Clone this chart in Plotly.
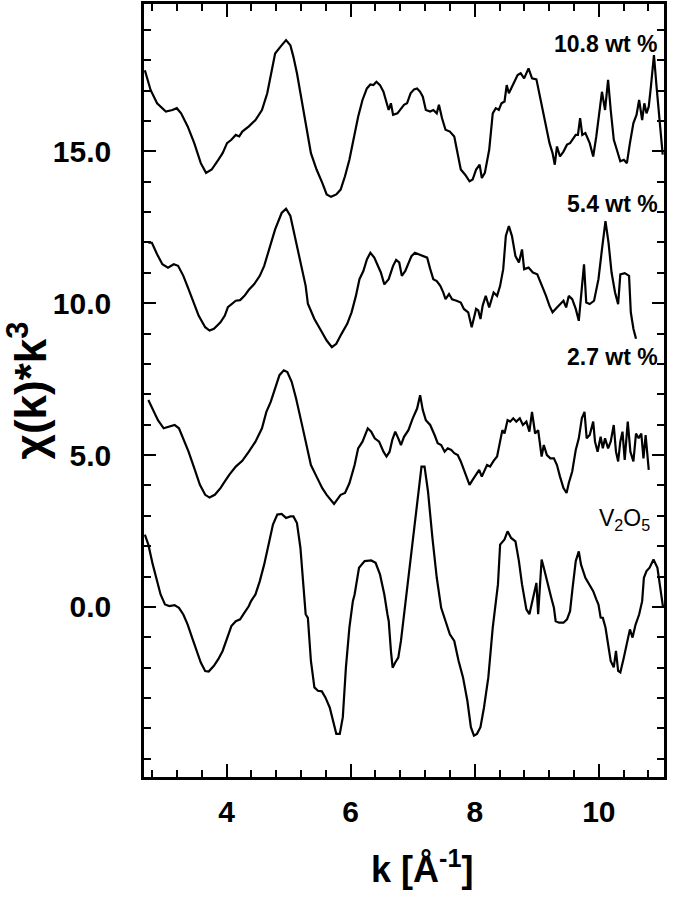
import plotly.graph_objects as go

# k values [1/A] and chi(k)*k^3 (as plotted, with vertical offsets)
k_108 = [2.684, 2.776, 2.881, 3.022, 3.128, 3.198, 3.268, 3.374, 3.480, 3.585, 3.670, 3.761,
         3.867, 3.937, 4.008, 4.078, 4.149, 4.205, 4.254, 4.360, 4.466, 4.571, 4.656, 4.726,
         4.783, 4.867, 4.959, 5.029, 5.078, 5.135, 5.205, 5.275, 5.360, 5.451, 5.543, 5.614,
         5.684, 5.769, 5.839, 5.909, 5.980, 6.050, 6.121, 6.191, 6.262, 6.318, 6.367, 6.416,
         6.473, 6.529, 6.578, 6.613, 6.649, 6.684, 6.754, 6.811, 6.860, 6.909, 6.966, 7.022,
         7.071, 7.120, 7.163, 7.212, 7.282, 7.332, 7.388, 7.423, 7.473, 7.529, 7.599, 7.670,
         7.726, 7.775, 7.846, 7.916, 7.966, 8.022, 8.079, 8.114, 8.163, 8.233, 8.290, 8.339,
         8.388, 8.431, 8.480, 8.515, 8.550, 8.621, 8.691, 8.740, 8.796, 8.867, 8.923, 8.994,
         9.078, 9.149, 9.205, 9.254, 9.290, 9.325, 9.374, 9.430, 9.487, 9.536, 9.585, 9.628,
         9.663, 9.698, 9.733, 9.783, 9.853, 9.909, 9.959, 10.008, 10.050, 10.100, 10.149, 10.191,
         10.241, 10.290, 10.346, 10.403, 10.452, 10.501, 10.557, 10.607, 10.649, 10.698, 10.733,
         10.768, 10.804, 10.839, 10.888, 10.930, 10.980, 11.029]
chi_108 = [17.67, 17.02, 16.58, 16.31, 16.36, 16.42, 16.25, 15.82, 15.27, 14.61, 14.29, 14.40,
           14.72, 14.94, 15.27, 15.38, 15.54, 15.49, 15.65, 15.82, 16.03, 16.36, 16.91, 17.67,
           18.22, 18.44, 18.66, 18.49, 18.11, 17.57, 16.80, 15.93, 14.94, 14.40, 13.96, 13.58,
           13.50, 13.58, 13.74, 14.18, 14.72, 15.49, 16.14, 16.69, 17.07, 17.20, 17.18, 17.29,
           17.18, 16.96, 16.64, 16.36, 16.58, 16.20, 16.25, 16.42, 16.53, 16.58, 16.91, 17.04,
           17.07, 16.96, 16.80, 16.36, 16.31, 16.36, 16.25, 16.53, 16.09, 15.71, 15.65, 15.49,
           14.94, 14.40, 14.23, 14.01, 14.07, 14.40, 14.56, 14.12, 14.29, 15.05, 16.25, 16.42,
           16.36, 16.58, 16.64, 17.18, 16.91, 17.24, 17.51, 17.57, 17.40, 17.73, 17.40, 17.37,
           16.58, 15.82, 15.27, 14.94, 14.56, 15.16, 14.83, 14.99, 15.22, 15.27, 15.43, 15.54,
           15.54, 16.09, 15.54, 15.60, 15.27, 14.83, 15.49, 16.36, 16.96, 16.36, 17.35, 16.36,
           15.38, 15.05, 14.67, 14.72, 14.61, 15.27, 15.93, 16.20, 16.69, 16.03, 16.58,
           16.25, 16.47, 17.13, 18.17, 17.13, 15.93, 14.89]

k_54 = [2.740, 2.797, 2.881, 2.966, 3.057, 3.149, 3.219, 3.304, 3.388, 3.480, 3.550, 3.656,
        3.726, 3.797, 3.902, 3.973, 4.022, 4.149, 4.219, 4.289, 4.360, 4.444, 4.536, 4.607,
        4.698, 4.783, 4.888, 4.959, 5.029, 5.100, 5.191, 5.275, 5.311, 5.416, 5.522, 5.614,
        5.698, 5.769, 5.853, 5.945, 6.015, 6.085, 6.142, 6.205, 6.262, 6.318, 6.381, 6.438,
        6.487, 6.543, 6.613, 6.684, 6.733, 6.783, 6.825, 6.881, 6.931, 6.980, 7.036, 7.107,
        7.177, 7.233, 7.283, 7.332, 7.388, 7.445, 7.494, 7.529, 7.586, 7.635, 7.706, 7.775,
        7.825, 7.895, 7.951, 8.022, 8.057, 8.092, 8.128, 8.177, 8.233, 8.304, 8.360, 8.409,
        8.459, 8.501, 8.550, 8.600, 8.656, 8.712, 8.762, 8.796, 8.867, 8.937, 9.008, 9.078,
        9.149, 9.205, 9.254, 9.325, 9.381, 9.430, 9.473, 9.515, 9.571, 9.628, 9.677, 9.761,
        9.797, 9.853, 9.923, 9.994, 10.050, 10.107, 10.156, 10.205, 10.261, 10.311, 10.346,
        10.417, 10.487, 10.515, 10.557, 10.599]
chi_54 = [11.99, 11.99, 11.61, 11.28, 11.17, 11.28, 11.23, 10.90, 10.46, 9.97, 9.59, 9.21,
          9.10, 9.16, 9.37, 9.59, 9.87, 10.08, 10.10, 10.24, 10.44, 10.62, 10.90, 11.23,
          11.88, 12.43, 12.97, 13.11, 12.87, 12.21, 11.44, 10.57, 9.98, 9.48, 9.10, 8.77,
          8.55, 8.66, 8.99, 9.32, 9.70, 10.24, 10.79, 11.06, 11.44, 11.66, 11.50, 11.23,
          11.01, 10.62, 10.79, 11.23, 11.42, 11.34, 10.90, 11.06, 11.34, 11.55, 11.66, 11.61,
          11.55, 11.50, 11.12, 10.79, 10.73, 10.57, 10.35, 10.13, 10.30, 10.13, 10.08, 10.02,
          9.81, 9.70, 9.21, 9.81, 9.76, 9.48, 9.92, 10.24, 9.86, 10.35, 10.24, 10.57,
          11.12, 12.21, 12.54, 12.21, 11.55, 11.34, 11.77, 11.12, 11.17, 11.01, 10.95, 10.62,
          10.24, 9.91, 9.70, 9.86, 9.97, 10.08, 9.86, 10.24, 10.13, 9.81, 9.42, 11.28,
          10.02, 9.97, 10.08, 10.79, 11.77, 12.70, 11.99, 11.01, 10.35, 9.97, 10.95,
          10.99, 10.90, 9.70, 9.16, 8.83]

k_27 = [2.740, 2.811, 2.895, 2.987, 3.078, 3.163, 3.233, 3.304, 3.388, 3.480, 3.571, 3.656,
        3.726, 3.811, 3.902, 3.973, 4.043, 4.149, 4.254, 4.360, 4.466, 4.571, 4.642, 4.712,
        4.783, 4.853, 4.923, 4.980, 5.050, 5.121, 5.205, 5.275, 5.360, 5.451, 5.543, 5.614,
        5.684, 5.733, 5.783, 5.839, 5.909, 5.980, 6.064, 6.121, 6.191, 6.276, 6.332, 6.388,
        6.459, 6.529, 6.578, 6.628, 6.670, 6.719, 6.768, 6.811, 6.860, 6.931, 7.001, 7.071,
        7.120, 7.163, 7.212, 7.282, 7.353, 7.403, 7.459, 7.515, 7.565, 7.621, 7.670, 7.726,
        7.775, 7.825, 7.881, 7.916, 7.966, 8.022, 8.071, 8.114, 8.149, 8.198, 8.247, 8.304,
        8.360, 8.409, 8.445, 8.480, 8.529, 8.571, 8.621, 8.670, 8.726, 8.776, 8.832, 8.881,
        8.923, 8.973, 9.022, 9.078, 9.113, 9.163, 9.219, 9.276, 9.325, 9.374, 9.430, 9.480,
        9.515, 9.571, 9.628, 9.677, 9.726, 9.769, 9.804, 9.853, 9.909, 9.938, 9.980, 10.029,
        10.064, 10.100, 10.149, 10.191, 10.240, 10.276, 10.311, 10.346, 10.381, 10.417, 10.466,
        10.508, 10.557, 10.599, 10.642, 10.684, 10.719, 10.754, 10.804]
chi_27 = [6.81, 6.53, 6.15, 5.88, 5.93, 5.99, 5.88, 5.55, 5.11, 4.57, 4.02, 3.69,
          3.60, 3.69, 3.91, 4.13, 4.35, 4.62, 4.81, 5.11, 5.44, 5.88, 6.42, 6.75,
          7.19, 7.63, 7.79, 7.73, 7.41, 6.86, 6.10, 5.44, 4.67, 4.29, 3.91, 3.69,
          3.53, 3.39, 3.53, 3.69, 3.75, 4.07, 4.67, 5.22, 5.44, 5.88, 5.77, 5.55,
          5.44, 5.11, 4.95, 5.11, 5.49, 5.77, 5.55, 5.33, 5.60, 5.82, 6.21, 6.53,
          6.97, 6.48, 6.15, 5.99, 5.66, 5.39, 5.33, 5.11, 5.22, 5.17, 5.06, 5.00,
          4.79, 4.51, 4.24, 4.02, 4.18, 4.35, 4.51, 4.29, 4.46, 4.67, 4.62, 4.81,
          4.95, 5.44, 5.82, 5.71, 6.15, 6.10, 6.21, 6.10, 6.21, 5.99, 6.10, 5.77,
          6.42, 5.71, 5.82, 4.95, 5.33, 5.00, 4.89, 4.89, 4.67, 4.29, 3.91, 3.75,
          4.07, 4.46, 5.17, 5.55, 6.21, 6.42, 5.55, 5.66, 6.10, 5.44, 5.11, 5.60,
          5.22, 5.55, 5.22, 5.44, 5.99, 5.11, 4.79, 5.44, 5.77, 4.84, 6.10,
          5.11, 4.79, 5.71, 5.55, 5.71, 4.89, 5.66, 4.51]

k_v2o5 = [2.684, 2.740, 2.811, 2.881, 2.937, 3.008, 3.078, 3.163, 3.233, 3.304, 3.374, 3.445,
          3.515, 3.585, 3.656, 3.712, 3.797, 3.867, 3.937, 4.008, 4.078, 4.149, 4.219, 4.289,
          4.360, 4.395, 4.466, 4.536, 4.607, 4.677, 4.748, 4.818, 4.888, 4.959, 5.029, 5.078,
          5.135, 5.191, 5.240, 5.275, 5.311, 5.360, 5.416, 5.473, 5.536, 5.593, 5.663, 5.712,
          5.769, 5.825, 5.874, 5.924, 5.980, 6.036, 6.064, 6.135, 6.226, 6.332, 6.402, 6.473,
          6.543, 6.593, 6.614, 6.649, 6.677, 6.719, 6.768, 6.811, 6.860, 6.909, 7.001, 7.071,
          7.142, 7.191, 7.247, 7.318, 7.388, 7.459, 7.529, 7.599, 7.670, 7.740, 7.811, 7.881,
          7.938, 7.987, 8.036, 8.092, 8.149, 8.219, 8.290, 8.339, 8.374, 8.409, 8.480, 8.529,
          8.586, 8.656, 8.712, 8.762, 8.832, 8.881, 8.937, 8.994, 9.022, 9.078, 9.113, 9.163,
          9.233, 9.276, 9.304, 9.360, 9.430, 9.487, 9.536, 9.571, 9.628, 9.677, 9.712, 9.783,
          9.853, 9.909, 9.959, 9.994, 10.029, 10.064, 10.107, 10.149, 10.191, 10.240, 10.276,
          10.311, 10.346, 10.402, 10.452, 10.501, 10.543, 10.592, 10.649, 10.698, 10.726,
          10.768, 10.818, 10.881, 10.944, 10.994, 11.036]
chi_v2o5 = [2.38, 2.05, 1.40, 0.85, 0.41, 0.08, 0.03, 0.06, -0.03, -0.25, -0.58, -1.01,
            -1.45, -1.83, -2.11, -2.13, -1.94, -1.72, -1.45, -1.01, -0.63, -0.47, -0.41, -0.19,
            0.03, 0.19, 0.41, 0.85, 1.40, 2.05, 2.71, 3.04, 3.06, 2.93, 2.98, 2.98,
            2.76, 1.94, 0.74, -0.24, -0.36, -1.78, -2.65, -2.76, -2.78, -2.98, -3.31, -3.74,
            -4.18, -4.18, -3.63, -1.99, -0.68, 0.19, 0.41, 1.29, 1.51, 1.53, 1.45, 1.07,
            0.41, -0.24, -0.47, -1.45, -2.00, -1.83, -1.67, -1.12, -0.25, 0.41, 2.16, 3.47,
            4.62, 4.62, 3.80, 2.27, 0.96, -0.03, -0.47, -0.90, -1.12, -1.78, -2.32, -3.09,
            -3.96, -4.24, -4.18, -3.96, -3.31, -2.32, -0.68, 0.19, 0.74, 2.05, 2.22, 2.49,
            2.27, 2.16, 1.51, 0.74, -0.08, -0.24, 0.30, 0.79, -0.24, 1.56, 1.29, 0.85,
            0.30, -0.03, -0.47, -0.52, -0.52, -0.41, -0.14, 0.52, 1.51, 1.83, 1.40, 0.96,
            0.69, 0.52, 0.25, 0.08, -0.35, -0.36, -0.68, -1.23, -1.78, -1.99, -1.45,
            -2.11, -2.16, -1.67, -1.23, -0.74, -1.01, -0.58, -0.25, 0.19, 0.96,
            1.18, 1.29, 1.56, 1.29, 0.63, -0.03]

labels = ["10.8 wt %", "5.4 wt %", "2.7 wt %", "V<sub>2</sub>O<sub>5</sub>"]
label_y = [18.52, 13.27, 8.22, 2.88]

x_ticks = [4, 6, 8, 10]
y_ticks = [0, 5, 10, 15]

font_bold = dict(family="Liberation Sans, Arial, sans-serif", color="black", weight="bold")

fig = go.Figure()
for kk, cc, nm in [(k_108, chi_108, labels[0]), (k_54, chi_54, labels[1]),
                   (k_27, chi_27, labels[2]), (k_v2o5, chi_v2o5, labels[3])]:
    fig.add_trace(go.Scatter(x=kk, y=cc, mode="lines", name=nm,
                             line=dict(color="black", width=2.2), showlegend=False))

# curve labels
for i, txt in enumerate(labels):
    bold = i < 3
    fig.add_annotation(x=10.99 if bold else 10.86, y=label_y[i], text=txt, showarrow=False,
                       xanchor="right", yanchor="middle",
                       font=dict(family="Liberation Sans, Arial, sans-serif", color="black",
                                 size=23, weight="bold" if bold else "normal"))

# x axis title placed like the original (slightly right of centre)
fig.add_annotation(x=0.535, y=-0.116, xref="paper", yref="paper", showarrow=False,
                   text="k [Å<sup>-1</sup>]", xanchor="center", yanchor="middle",
                   font=dict(font_bold, size=36))

fig.update_layout(
    width=685, height=921,
    margin=dict(l=144, r=21, t=1, b=144),
    plot_bgcolor="white", paper_bgcolor="white",
    xaxis=dict(range=[2.67, 11.05], tickvals=x_ticks, ticks="inside", ticklen=13,
               tickwidth=2, tickcolor="black", showline=True, linewidth=2.5, linecolor="black",
               mirror="ticks", showgrid=False, zeroline=False,
               tickfont=dict(font_bold, size=30), ticklabelstandoff=6,
               minor=dict(tick0=0, dtick=0.4, ticks="inside", ticklen=7, tickwidth=2,
                          tickcolor="black", showgrid=False)),
    yaxis=dict(range=[-5.6, 19.85], tickvals=y_ticks, tickformat=".1f", ticks="inside",
               ticklen=12, tickwidth=2, tickcolor="black", showline=True, linewidth=2.5,
               linecolor="black", mirror="ticks", showgrid=False, zeroline=False,
               tickfont=dict(font_bold, size=30), ticklabelstandoff=24,
               title=dict(text="χ(k)*k<sup>3</sup>", font=dict(font_bold, size=44), standoff=6),
               minor=dict(tick0=0, dtick=1, ticks="inside", ticklen=7, tickwidth=2,
                          tickcolor="black", showgrid=False)),
)

fig.write_html("out.html", config={"displayModeBar": False},
               post_script="document.body.style.margin='0px';")
